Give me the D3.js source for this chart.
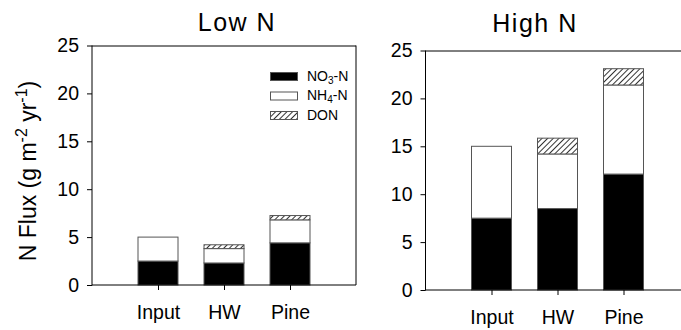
<!DOCTYPE html>
<html lang="en">
<head>
  <meta charset="UTF-8">
  <title>N Flux</title>
  <script src="https://d3js.org/d3.v7.min.js"></script>
  <style>
    body { margin: 0; background: #fff; }
    text { font-family: "Liberation Sans", Arial, sans-serif; fill: #000; }
  </style>
</head>
<body>
  <script>
    // Data
    const categories = ["Input", "HW", "Pine"];
    const seriesNames = ["NO3", "NH4", "DON"];
    const lowNO3 = [2.5, 2.3, 4.4];
    const lowNH4 = [2.5, 1.5, 2.4];
    const lowDON = [0, 0.4, 0.45];
    const highNO3 = [7.5, 8.5, 12.1];
    const highNH4 = [7.5, 5.7, 9.3];
    const highDON = [0, 1.65, 1.7];
    const yTicks = [0, 5, 10, 15, 20, 25];

    const width = 681;
    const height = 330;

    const svg = d3.select("body")
      .append("svg")
      .attr("width", width)
      .attr("height", height);

    // Hatch pattern for DON
    const defs = svg.append("defs");
    const pat = defs.append("pattern")
      .attr("id", "hatch")
      .attr("patternUnits", "userSpaceOnUse")
      .attr("width", 4)
      .attr("height", 4)
      .attr("patternTransform", "rotate(45)");
    pat.append("rect").attr("width", 4).attr("height", 4).attr("fill", "#fff");
    pat.append("line")
      .attr("x1", 0).attr("y1", 0).attr("x2", 0).attr("y2", 4)
      .attr("stroke", "#000").attr("stroke-width", 1.6);

    const fills = { NO3: "#000", NH4: "#fff", DON: "url(#hatch)" };

    function stackRows(no3, nh4, don) {
      return categories.map((c, i) => ({ cat: c, NO3: no3[i], NH4: nh4[i], DON: don[i] }));
    }

    function drawPanel(opts) {
      const { left, top, w, h, rows, title, titleX, titleY, rightBorder } = opts;
      const g = svg.append("g").attr("transform", `translate(${left},${top})`);

      const x = d3.scalePoint().domain(["", ...categories, " "]).range([0, w]);
      const y = d3.scaleLinear().domain([0, 25]).range([h, 0]);

      const stack = d3.stack().keys(seriesNames)(rows);
      const barW = 40;

      stack.forEach(layer => {
        g.append("g").selectAll("rect")
          .data(layer.filter(d => d[1] - d[0] > 0))
          .enter()
          .append("rect")
          .attr("x", d => x(d.data.cat) - barW / 2)
          .attr("y", d => y(d[1]))
          .attr("width", barW)
          .attr("height", d => y(d[0]) - y(d[1]))
          .attr("fill", fills[layer.key])
          .attr("stroke", "#555")
          .attr("stroke-width", 1);
      });

      // y axis
      const yAxis = g.append("g")
        .call(d3.axisLeft(y).tickValues(yTicks).tickSize(5).tickPadding(8));
      yAxis.select(".domain").attr("d", `M0,${h + 0.5}V0`);
      yAxis.selectAll("text").attr("font-size", 19.5).attr("font-family", null);

      // x axis
      const xAxis = g.append("g")
        .attr("transform", `translate(0,${h})`)
        .call(d3.axisBottom(x).tickValues(categories).tickSize(5).tickPadding(15));
      xAxis.select(".domain").attr("d", `M0,0H${w}`);
      xAxis.selectAll("text").attr("font-size", 19.5).attr("font-family", null);

      // top (and right) border
      g.append("line").attr("x1", 0).attr("x2", w).attr("y1", 0.5).attr("y2", 0.5)
        .attr("stroke", "#000");
      if (rightBorder) {
        g.append("line").attr("x1", w).attr("x2", w).attr("y1", 0).attr("y2", h)
          .attr("stroke", "#000");
      }

      svg.append("text")
        .attr("x", titleX)
        .attr("y", titleY)
        .attr("text-anchor", "middle")
        .attr("font-size", 25)
        .attr("letter-spacing", 1.5)
        .text(title);

      return g;
    }

    drawPanel({
      left: 92, top: 45.5, w: 264, h: 239.5,
      rows: stackRows(lowNO3, lowNH4, lowDON),
      title: "Low N", titleX: 237, titleY: 31, rightBorder: true
    });

    drawPanel({
      left: 425.5, top: 50.5, w: 264, h: 239.5,
      rows: stackRows(highNO3, highNH4, highDON),
      title: "High N", titleX: 535, titleY: 32, rightBorder: true
    });

    // y axis label
    const yl = svg.append("text")
      .attr("transform", "translate(36,171) rotate(-90)")
      .attr("text-anchor", "middle")
      .attr("font-size", 23);
    yl.append("tspan").text("N Flux (g m");
    yl.append("tspan").attr("font-size", 16).attr("dy", -9).text("-2");
    yl.append("tspan").attr("dy", 9).text(" yr");
    yl.append("tspan").attr("font-size", 16).attr("dy", -9).text("-1");
    yl.append("tspan").attr("dy", 9).text(")");

    // legend
    const legendItems = [
      { key: "NO3", label: "NO", sub: "3", rest: "-N" },
      { key: "NH4", label: "NH", sub: "4", rest: "-N" },
      { key: "DON", label: "DON", sub: "", rest: "" }
    ];
    const lg = svg.append("g").attr("transform", "translate(270,72)");
    legendItems.forEach((d, i) => {
      const row = lg.append("g").attr("transform", `translate(0,${i * 19.5})`);
      row.append("rect")
        .attr("x", 0.5).attr("y", 0.5)
        .attr("width", 27).attr("height", 8)
        .attr("fill", fills[d.key])
        .attr("stroke", "#555");
      const t = row.append("text").attr("x", 37).attr("y", 8.5).attr("font-size", 14);
      t.append("tspan").text(d.label);
      if (d.sub) {
        t.append("tspan").attr("font-size", 10).attr("dy", 3).text(d.sub);
        t.append("tspan").attr("dy", -3).text(d.rest);
      }
    });
  </script>
</body>
</html>
